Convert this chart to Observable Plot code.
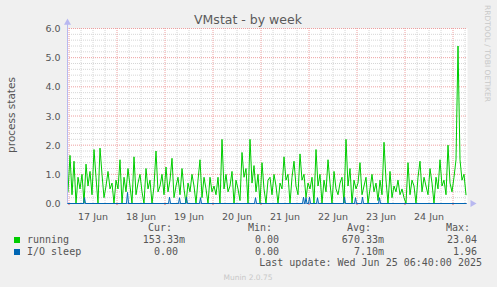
<!DOCTYPE html>
<html>
<head>
<meta charset="utf-8">
<script src="https://cdn.jsdelivr.net/npm/d3@7"></script>
<script src="https://cdn.jsdelivr.net/npm/@observablehq/plot@0.6"></script>
<style>
  html, body { margin: 0; padding: 0; background: #f0f0f0; }
  #chart { width: 497px; height: 287px; position: relative; background: #f0f0f0; }
</style>
</head>
<body>
<div id="chart"></div>
<script>
// ---- data (hourly samples) ----
const sampleStart = "2025-06-16T23:30:00Z";
const runningJun16 = [0.4];
const runningJun17 = [1.65, 0.3, 1.45, 0.0, 0.9, 0.5, 1.0, 0.0, 1.35, 0.6, 1.1, 0.3, 1.85, 0.9, 0.0, 1.9, 1.0, 0.2, 0.6, 1.1, 0.5, 0.7, 0.0, 0.8];
const runningJun18 = [0.5, 1.5, 0.0, 0.9, 0.4, 1.2, 0.6, 0.0, 1.6, 0.3, 0.7, 1.0, 0.4, 0.0, 1.2, 0.5, 0.8, 0.0, 0.6, 1.8, 0.4, 0.6, 1.0, 0.3];
const runningJun19 = [1.25, 0.4, 0.8, 1.55, 0.2, 0.6, 0.9, 0.3, 1.2, 0.5, 0.0, 0.7, 0.4, 1.0, 0.6, 0.0, 0.8, 1.5, 0.2, 0.9, 0.5, 0.0, 0.9, 0.4];
const runningJun20 = [0.6, 0.3, 0.9, 0.0, 2.2, 0.5, 1.0, 0.4, 0.6, 1.1, 0.0, 0.8, 0.5, 0.1, 1.75, 0.9, 1.2, 0.0, 2.2, 0.7, 1.3, 0.4, 1.0, 0.0];
const runningJun21 = [1.4, 0.5, 0.0, 0.8, 0.9, 0.3, 1.0, 0.6, 0.0, 0.7, 0.5, 1.6, 0.8, 1.0, 0.0, 0.9, 1.45, 0.6, 0.3, 1.7, 0.8, 1.0, 0.2, 0.7];
const runningJun22 = [0.5, 0.9, 0.0, 1.85, 0.6, 1.0, 0.0, 0.8, 0.4, 1.5, 0.7, 0.0, 1.1, 0.5, 0.3, 0.7, 0.9, 0.0, 2.2, 0.6, 1.2, 0.0, 0.8, 0.5];
const runningJun23 = [0.7, 1.4, 0.3, 0.6, 0.9, 0.0, 0.5, 1.0, 0.4, 0.7, 0.1, 0.8, 0.3, 2.1, 0.8, 0.0, 1.1, 0.2, 0.6, 0.4, 0.8, 0.3, 0.5, 0.2];
const runningJun24 = [0.0, 1.4, 0.3, 0.8, 0.6, 0.0, 0.9, 1.45, 0.4, 0.9, 0.6, 0.3, 1.2, 0.7, 0.0, 0.9, 0.5, 1.5, 0.6, 0.8, 0.3, 2.0, 0.7, 0.4];
const runningJun25 = [0.9, 1.5, 5.4, 1.5, 0.8, 1.0, 0.3];

const ioSpikeTimes = ["2025-06-17T07:45Z", "2025-06-18T05:15Z", "2025-06-19T02:15Z", "2025-06-19T07:15Z",
  "2025-06-19T10:45Z", "2025-06-19T17:45Z", "2025-06-20T21:15Z", "2025-06-21T21:15Z", "2025-06-21T22:30Z",
  "2025-06-22T00:15Z", "2025-06-22T04:15Z", "2025-06-22T17:45Z", "2025-06-22T23:15Z", "2025-06-23T02:45Z",
  "2025-06-23T11:15Z"];
const ioSpikeValues = [0.2, 0.38, 0.22, 0.2, 0.22, 0.2, 0.2, 0.22, 0.2, 0.22, 0.2, 0.22, 0.2, 0.22, 0.2];

const xDomainLabels = ["2025-06-16T23:15Z", "2025-06-25T07:15Z"];
const dayLabels = ["17 Jun", "18 Jun", "19 Jun", "20 Jun", "21 Jun", "22 Jun", "23 Jun", "24 Jun"];
const dayLabelTimes = ["2025-06-17T12:00Z", "2025-06-18T12:00Z", "2025-06-19T12:00Z", "2025-06-20T12:00Z",
  "2025-06-21T12:00Z", "2025-06-22T12:00Z", "2025-06-23T12:00Z", "2025-06-24T12:00Z"];
const yTicks = [0, 1, 2, 3, 4, 5, 6];
const yTickLabels = ["0.0", "1.0", "2.0", "3.0", "4.0", "5.0", "6.0"];

const legendHeaders = ["Cur:", "Min:", "Avg:", "Max:"];
const legendSeries = ["running", "I/O sleep"];
const legendRunning = ["153.33m", "0.00", "670.33m", "23.04"];
const legendIO = ["0.00", "0.00", "7.10m", "1.96"];
const lastUpdate = "Last update: Wed Jun 25 06:40:00 2025";

// ---- build tables ----
const HOUR = 3600e3;
const runningVals = [].concat(runningJun16, runningJun17, runningJun18, runningJun19, runningJun20,
  runningJun21, runningJun22, runningJun23, runningJun24, runningJun25);
const t0 = new Date(sampleStart).getTime();
const running = runningVals.map((v, i) => ({t: new Date(t0 + i * HOUR), v}));

const xDomain = xDomainLabels.map(s => new Date(s));
const io = [{t: new Date(t0), v: 0}];
ioSpikeTimes.forEach((s, i) => {
  const t = new Date(s).getTime();
  io.push({t: new Date(t - 0.5 * HOUR), v: 0}, {t: new Date(t), v: ioSpikeValues[i]}, {t: new Date(t + 0.5 * HOUR), v: 0});
});
io.push({t: running[running.length - 1].t, v: 0});

const dayLines = d3.utcDay.range(xDomain[0], xDomain[1]);
const sixHourLines = d3.utcHour.every(6).range(xDomain[0], xDomain[1]).filter(d => d.getUTCHours() !== 0);
const yMinor = d3.range(0, 30).map(i => i / 5).filter(v => Math.abs(v - Math.round(v)) > 1e-9);

const green = "#00cc00", blue = "#0066b3", axisCol = "#b8b8f0";
const minorCol = "#d6d6d6", majorCol = "#eea0a0";

const chart = Plot.plot({
  width: 497, height: 287,
  marginLeft: 67, marginRight: 30, marginTop: 28, marginBottom: 84,
  x: {type: "utc", domain: xDomain, axis: null},
  y: {domain: [0, 6], axis: null},
  style: {background: "transparent", fontFamily: "DejaVu Sans", fontSize: "9.5px", color: "#555", overflow: "visible"},
  marks: [
    Plot.frame({fill: "white", stroke: null}),
    Plot.ruleY(yMinor, {stroke: minorCol, strokeDasharray: "1,1"}),
    Plot.ruleX(sixHourLines, {stroke: minorCol, strokeDasharray: "1,1"}),
    Plot.ruleY(yTicks.slice(1), {stroke: majorCol, strokeDasharray: "1,1"}),
    Plot.ruleX(dayLines, {stroke: majorCol, strokeDasharray: "1,1"}),
    Plot.ruleX(dayLines, {y1: 0, y2: -0.07, stroke: "#e06060"}),
    Plot.line(running, {x: "t", y: "v", stroke: green, strokeWidth: 1}),
    Plot.ruleX([xDomain[0]], {y1: 0, y2: 6.15, stroke: axisCol}),
    Plot.ruleY([0], {x1: xDomain[0], x2: xDomain[1], stroke: "#7f9fdf"}),
    Plot.line(io, {x: "t", y: "v", stroke: blue, strokeWidth: 1}),
    Plot.dot([xDomain[0]], {x: d => d, y: () => 6.2, symbol: "triangle", r: 2.6, fill: axisCol, stroke: null}),
    Plot.dot([xDomain[1]], {x: d => new Date(d.getTime() + 2.5 * HOUR), y: () => 0, symbol: "triangle", r: 2.6, rotate: 90, fill: axisCol, stroke: null}),
    Plot.text(yTicks, {x: () => xDomain[0], y: d => d, dx: -7, dy: 0.5, text: (d, i) => yTickLabels[i], textAnchor: "end", fill: "#555", fontSize: 9.5}),
    Plot.text(dayLabelTimes.map(s => new Date(s)), {x: d => d, y: () => 0, dy: 10, text: (d, i) => dayLabels[i], fill: "#555", fontSize: 9.5, lineAnchor: "top"})
  ]
});
document.getElementById("chart").appendChild(chart);

// ---- title, legend and other decorations ----
const svg = d3.select(chart);
const g = svg.append("g");
function txt(x, y, s, o = {}) {
  const t = g.append("text").attr("x", x).attr("y", y).text(s)
    .attr("font-family", o.family || "DejaVu Sans").attr("font-size", o.size || 10)
    .attr("fill", o.fill || "#555").attr("text-anchor", o.anchor || "start");
  if (o.rotate) t.attr("transform", `rotate(${o.rotate},${x},${y})`);
  if (o.len) t.attr("textLength", o.len).attr("lengthAdjust", "spacingAndGlyphs");
  return t;
}
txt(248, 24, "VMstat - by week", {size: 12.5, anchor: "middle", fill: "#5a5a5a"});
txt(15, 115, "process states", {size: 10.5, anchor: "middle", rotate: -90});
txt(485, 5, "RRDTOOL / TOBI OETIKER", {size: 7.5, fill: "#c8c8c8", rotate: 90, len: 97});

const mono = {family: "DejaVu Sans Mono", size: 10};
const headerX = [172, 272, 371, 470];
legendHeaders.forEach((h, i) => txt(headerX[i], 231, h, {...mono, anchor: "end"}));
g.append("rect").attr("x", 14).attr("y", 237).attr("width", 6).attr("height", 6).attr("fill", green);
g.append("rect").attr("x", 14).attr("y", 249).attr("width", 6).attr("height", 6).attr("fill", blue);
txt(27, 243, legendSeries[0], mono);
txt(27, 255, legendSeries[1], mono);
const runX = [185, 279, 384, 477];
const ioX = [178, 279, 384, 477];
legendRunning.forEach((s, i) => txt(runX[i], 243, s, {...mono, anchor: "end"}));
legendIO.forEach((s, i) => txt(ioX[i], 255, s, {...mono, anchor: "end"}));
txt(482, 266, lastUpdate, {...mono, anchor: "end"});
txt(248, 280, "Munin 2.0.75", {size: 7.5, fill: "#c8c8c8", anchor: "middle"});
</script>
</body>
</html>
